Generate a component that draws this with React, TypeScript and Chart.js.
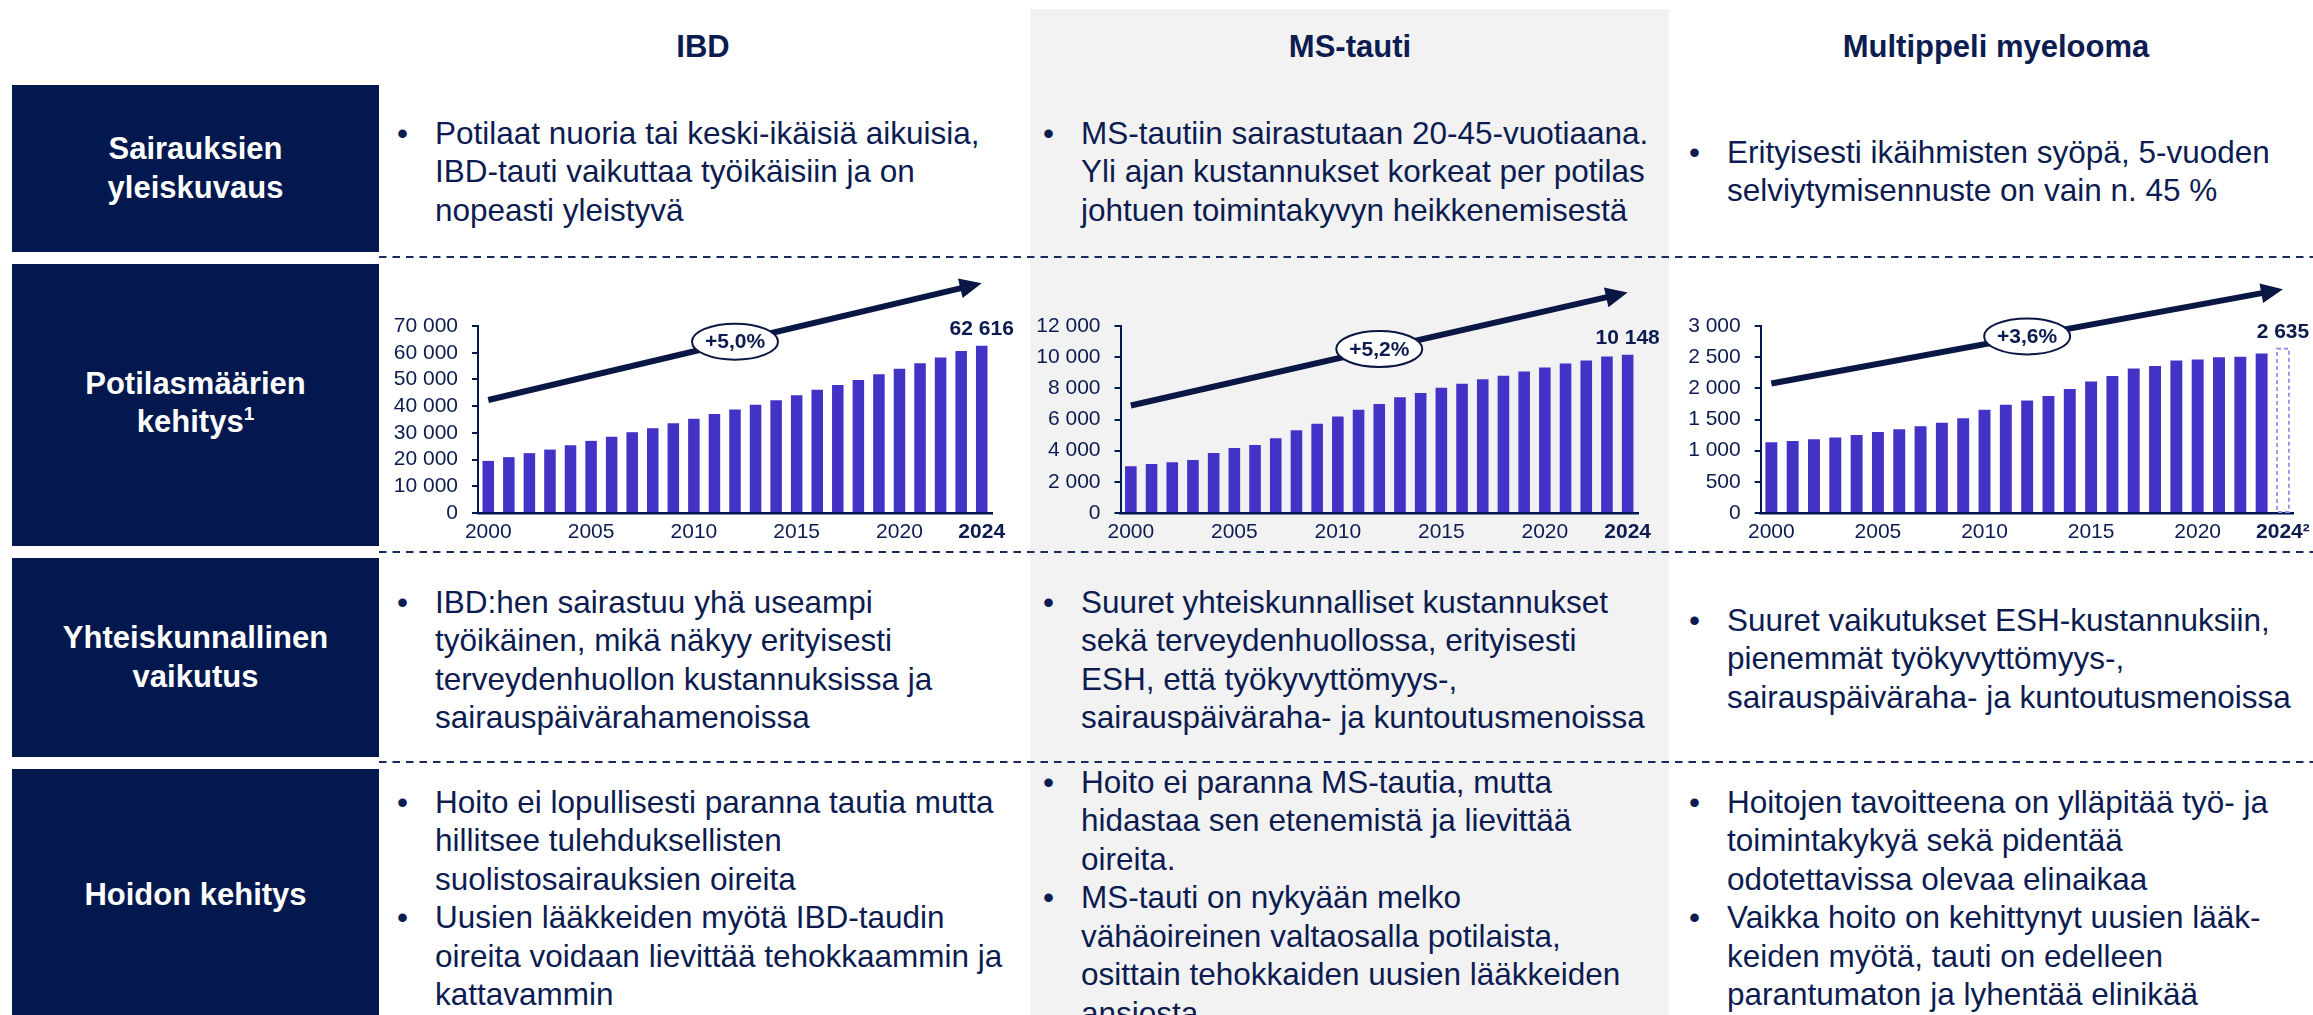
import React, { useEffect, useRef } from 'react';
import { Chart, registerables } from 'chart.js';

Chart.register(...registerables);

// ---------- DATA ----------
const YEARS = ['2000', '2001', '2002', '2003', '2004', '2005', '2006', '2007', '2008', '2009', '2010', '2011', '2012', '2013', '2014', '2015', '2016', '2017', '2018', '2019', '2020', '2021', '2022', '2023', '2024'];
const SHOWN_YEARS = ['2000', '2005', '2010', '2015', '2020', '2024'];

const IBD_VALUES = [19500, 20900, 22400, 23750, 25400, 27000, 28500, 30250, 31750, 33600, 35250, 37100, 38750, 40500, 42250, 44100, 46100, 47900, 49750, 51900, 54000, 56100, 58250, 60600, 62616];
const MS_VALUES = [3000, 3140, 3250, 3400, 3850, 4170, 4370, 4800, 5310, 5720, 6190, 6620, 6990, 7420, 7700, 8040, 8300, 8580, 8800, 9080, 9330, 9590, 9790, 10040, 10148];
const MM_VALUES = [1134, 1156, 1183, 1210, 1253, 1301, 1344, 1392, 1446, 1522, 1656, 1737, 1806, 1876, 1989, 2108, 2199, 2317, 2360, 2446, 2462, 2500, 2505, 2559, 2635];

const IBD_TREND = [42300, 86000];
const MS_TREND = [6900, 14150];
const MM_TREND = [2077, 3590];

const IBD_GROWTH = '+5,0%';
const MS_GROWTH = '+5,2%';
const MM_GROWTH = '+3,6%';

const IBD_LAST = '62 616';
const MS_LAST = '10 148';
const MM_LAST = '2 635';

const IBD_Y_MAX = 70000; const IBD_Y_STEP = 10000;
const MS_Y_MAX = 12000; const MS_Y_STEP = 2000;
const MM_Y_MAX = 3000; const MM_Y_STEP = 500;

const COLUMN_TITLES = ['IBD', 'MS-tauti', 'Multippeli myelooma'];
const ROW_LABELS = [['Sairauksien', 'yleiskuvaus'], ['Potilasmäärien', 'kehitys¹'], ['Yhteiskunnallinen', 'vaikutus'], ['Hoidon kehitys']];

const ROW1_IBD = [['Potilaat nuoria tai keski-ikäisiä aikuisia,', 'IBD-tauti vaikuttaa työikäisiin ja on', 'nopeasti yleistyvä']];
const ROW1_MS = [['MS-tautiin sairastutaan 20-45-vuotiaana.', 'Yli ajan kustannukset korkeat per potilas', 'johtuen toimintakyvyn heikkenemisestä']];
const ROW1_MM = [['Erityisesti ikäihmisten syöpä, 5-vuoden', 'selviytymisennuste on vain n. 45 %']];
const ROW3_IBD = [['IBD:hen sairastuu yhä useampi', 'työikäinen, mikä näkyy erityisesti', 'terveydenhuollon kustannuksissa ja', 'sairauspäivärahamenoissa']];
const ROW3_MS = [['Suuret yhteiskunnalliset kustannukset', 'sekä terveydenhuollossa, erityisesti', 'ESH, että työkyvyttömyys-,', 'sairauspäiväraha- ja kuntoutusmenoissa']];
const ROW3_MM = [['Suuret vaikutukset ESH-kustannuksiin,', 'pienemmät työkyvyttömyys-,', 'sairauspäiväraha- ja kuntoutusmenoissa']];
const ROW4_IBD = [['Hoito ei lopullisesti paranna tautia mutta', 'hillitsee tulehduksellisten', 'suolistosairauksien oireita'], ['Uusien lääkkeiden myötä IBD-taudin', 'oireita voidaan lievittää tehokkaammin ja', 'kattavammin']];
const ROW4_MS = [['Hoito ei paranna MS-tautia, mutta', 'hidastaa sen etenemistä ja lievittää', 'oireita.'], ['MS-tauti on nykyään melko', 'vähäoireinen valtaosalla potilaista,', 'osittain tehokkaiden uusien lääkkeiden', 'ansiosta']];
const ROW4_MM = [['Hoitojen tavoitteena on ylläpitää työ- ja', 'toimintakykyä sekä pidentää', 'odotettavissa olevaa elinaikaa'], ['Vaikka hoito on kehittynyt uusien lääk-', 'keiden myötä, tauti on edelleen', 'parantumaton ja lyhentää elinikää']];

// ---------- STYLE ----------
const FONT = '"Liberation Sans", Arial, Helvetica, sans-serif';
const NAVY = '#02184E';
const TEXT = '#0C1C50';
const ARROW = '#0A1744';
const BAR = '#4332C6';
const DASHED = '#9A8EE6';
const GRAY = '#F2F2F2';

const fmt = (v: number) => String(v).replace(/\B(?=(\d{3})+(?!\d))/g, ' ');

type ChartProps = {
  values: number[];
  yMax: number;
  yStep: number;
  trend: number[];
  growth: string;
  lastLabel: string;
  lastTick: string;
  dashedLast: boolean;
  left: number;
  top: number;
  width: number;
  height: number;
  yWidth: number;
  padRight: number;
};

function BarChart(p: ChartProps) {
  const ref = useRef<HTMLCanvasElement | null>(null);
  useEffect(() => {
    if (!ref.current) return;
    const n = p.values.length;
    const trendPlugin = {
      id: 'trendAnno',
      afterDatasetsDraw(chart: any) {
        const { ctx, scales } = chart;
        const xs = scales.x;
        const ys = scales.y;
        const meta = chart.getDatasetMeta(0);
        const last = meta.data[n - 1];
        const lp = last.getProps(['x', 'y', 'base', 'width'], true);
        ctx.save();
        if (p.dashedLast) {
          ctx.setLineDash([4, 3]);
          ctx.strokeStyle = DASHED;
          ctx.lineWidth = 1.8;
          ctx.strokeRect(lp.x - lp.width / 2, lp.y, lp.width, lp.base - lp.y);
          ctx.setLineDash([]);
        }
        // value label
        ctx.fillStyle = TEXT;
        ctx.font = `bold 21px ${FONT}`;
        ctx.textAlign = 'center';
        ctx.textBaseline = 'middle';
        ctx.fillText(p.lastLabel, lp.x, lp.y - 17);
        // arrow
        const x0 = xs.getPixelForValue(0);
        const x1 = xs.getPixelForValue(n - 1);
        const y0 = ys.getPixelForValue(p.trend[0]);
        const y1 = ys.getPixelForValue(p.trend[1]);
        const ang = Math.atan2(y1 - y0, x1 - x0);
        const headLen = 22;
        const headW = 10;
        const c = Math.cos(ang);
        const s = Math.sin(ang);
        const bx = x1 - headLen * c;
        const by = y1 - headLen * s;
        ctx.strokeStyle = ARROW;
        ctx.fillStyle = ARROW;
        ctx.lineWidth = 6;
        ctx.lineCap = 'butt';
        ctx.beginPath();
        ctx.moveTo(x0, y0);
        ctx.lineTo(bx + 2 * c, by + 2 * s);
        ctx.stroke();
        ctx.beginPath();
        ctx.moveTo(x1, y1);
        ctx.lineTo(bx + headW * s, by - headW * c);
        ctx.lineTo(bx - headW * s, by + headW * c);
        ctx.closePath();
        ctx.fill();
        // ellipse
        const mx = (x0 + x1) / 2;
        const my = (y0 + y1) / 2;
        ctx.beginPath();
        ctx.ellipse(mx, my, 43, 18, 0, 0, Math.PI * 2);
        ctx.fillStyle = '#FFFFFF';
        ctx.fill();
        ctx.lineWidth = 2;
        ctx.strokeStyle = ARROW;
        ctx.stroke();
        ctx.fillStyle = TEXT;
        ctx.font = `bold 21px ${FONT}`;
        ctx.fillText(p.growth, mx, my + 1);
        ctx.restore();
      },
    };
    const colors = p.values.map((_, i) => (p.dashedLast && i === n - 1 ? 'rgba(0,0,0,0)' : BAR));
    const chart = new Chart(ref.current, {
      type: 'bar',
      data: {
        labels: YEARS,
        datasets: [
          {
            data: p.values,
            backgroundColor: colors,
            borderWidth: 0,
            barPercentage: 0.56,
            categoryPercentage: 1,
          },
        ],
      },
      options: {
        animation: false,
        responsive: false,
        devicePixelRatio: 1,
        layout: { padding: { top: 66, right: p.padRight, left: 0, bottom: 0 } },
        plugins: { legend: { display: false }, tooltip: { enabled: false } },
        scales: {
          x: {
            grid: { display: false, drawTicks: false },
            border: { display: true, color: NAVY, width: 2.5 },
            ticks: {
              autoSkip: false,
              maxRotation: 0,
              minRotation: 0,
              padding: 7,
              color: TEXT,
              font: (ctx: any) => ({ size: 21, family: FONT, weight: ctx.index === n - 1 ? 'bold' : 'normal' }),
              callback: (_v: any, i: number) => (SHOWN_YEARS.includes(YEARS[i]) ? (i === n - 1 ? p.lastTick : YEARS[i]) : ''),
            },
            afterFit: (scale: any) => {
              scale.height = 37;
            },
          },
          y: {
            min: 0,
            max: p.yMax,
            ticks: {
              stepSize: p.yStep,
              autoSkip: false,
              padding: 14,
              color: TEXT,
              font: { size: 21, family: FONT },
              callback: (v: any) => fmt(Number(v)),
            },
            grid: { drawOnChartArea: false, drawTicks: true, tickLength: 6, color: NAVY, lineWidth: 2 },
            border: { display: true, color: NAVY, width: 2 },
            afterFit: (scale: any) => {
              scale.width = p.yWidth;
            },
          },
        },
      },
      plugins: [trendPlugin],
    } as any);
    return () => chart.destroy();
  }, []);
  return (
    <canvas
      ref={ref}
      width={p.width}
      height={p.height}
      style={{ position: 'absolute', left: p.left, top: p.top, width: p.width, height: p.height, display: 'block' }}
    />
  );
}

function Bullets({ x, top, items }: { x: number; top: number; items: string[][] }) {
  return (
    <div
      style={{
        position: 'absolute',
        left: x,
        top,
        fontFamily: FONT,
        fontSize: 31.5,
        lineHeight: '38.5px',
        color: TEXT,
        whiteSpace: 'nowrap',
      }}
    >
      {items.map((lines, i) => (
        <div key={i} style={{ position: 'relative' }}>
          <span style={{ position: 'absolute', left: -38 }}>•</span>
          {lines.map((l, j) => (
            <div key={j}>{l}</div>
          ))}
        </div>
      ))}
    </div>
  );
}

function RowLabel({ top, height, lines }: { top: number; height: number; lines: string[] }) {
  return (
    <div
      style={{
        position: 'absolute',
        left: 12,
        top,
        width: 367,
        height,
        background: NAVY,
        color: '#FFFFFF',
        fontFamily: FONT,
        fontWeight: 'bold',
        fontSize: 31,
        lineHeight: '38.5px',
        display: 'flex',
        flexDirection: 'column',
        alignItems: 'center',
        justifyContent: 'center',
        textAlign: 'center',
      }}
    >
      {lines.map((l, i) => {
        if (l.endsWith('¹')) {
          return (
            <div key={i}>
              {l.slice(0, -1)}
              <span style={{ fontSize: 19, position: 'relative', top: -12 }}>1</span>
            </div>
          );
        }
        return <div key={i}>{l}</div>;
      })}
    </div>
  );
}

function Title({ cx, text }: { cx: number; text: string }) {
  return (
    <div
      style={{
        position: 'absolute',
        left: cx - 300,
        width: 600,
        top: 47 - 19,
        textAlign: 'center',
        fontFamily: FONT,
        fontWeight: 'bold',
        fontSize: 31,
        lineHeight: '38px',
        color: TEXT,
      }}
    >
      {text}
    </div>
  );
}

export default function App() {
  const dashY = [257, 552, 762];
  return (
    <div style={{ position: 'absolute', left: 0, top: 0, width: 2313, height: 1015, overflow: 'hidden', background: '#FFFFFF' }}>
      <div style={{ position: 'absolute', left: 1030, top: 9, width: 639, height: 1010, background: GRAY }} />
      <Title cx={703} text={COLUMN_TITLES[0]} />
      <Title cx={1350} text={COLUMN_TITLES[1]} />
      <Title cx={1996} text={COLUMN_TITLES[2]} />

      <RowLabel top={85} height={167} lines={ROW_LABELS[0]} />
      <RowLabel top={264} height={282} lines={ROW_LABELS[1]} />
      <RowLabel top={558} height={199} lines={ROW_LABELS[2]} />
      <RowLabel top={769} height={252} lines={ROW_LABELS[3]} />

      <svg width={2313} height={1015} style={{ position: 'absolute', left: 0, top: 0 }}>
        {dashY.map((y) => (
          <line key={y} x1={379} y1={y} x2={2313} y2={y} stroke="#1B2A5C" strokeWidth={2} strokeDasharray="7.5 6" />
        ))}
      </svg>

      <Bullets x={435} top={113.75} items={ROW1_IBD} />
      <Bullets x={1081} top={113.75} items={ROW1_MS} />
      <Bullets x={1727} top={132.75} items={ROW1_MM} />

      <Bullets x={435} top={582.75} items={ROW3_IBD} />
      <Bullets x={1081} top={582.75} items={ROW3_MS} />
      <Bullets x={1727} top={600.75} items={ROW3_MM} />

      <Bullets x={435} top={782.75} items={ROW4_IBD} />
      <Bullets x={1081} top={762.75} items={ROW4_MS} />
      <Bullets x={1727} top={782.75} items={ROW4_MM} />

      <BarChart
        values={IBD_VALUES}
        yMax={IBD_Y_MAX}
        yStep={IBD_Y_STEP}
        trend={IBD_TREND}
        growth={IBD_GROWTH}
        lastLabel={IBD_LAST}
        lastTick="2024"
        dashedLast={false}
        left={380}
        top={260}
        width={640}
        height={290}
        yWidth={98}
        padRight={28}
      />
      <BarChart
        values={MS_VALUES}
        yMax={MS_Y_MAX}
        yStep={MS_Y_STEP}
        trend={MS_TREND}
        growth={MS_GROWTH}
        lastLabel={MS_LAST}
        lastTick="2024"
        dashedLast={false}
        left={1035}
        top={260}
        width={630}
        height={290}
        yWidth={85.5}
        padRight={27}
      />
      <BarChart
        values={MM_VALUES}
        yMax={MM_Y_MAX}
        yStep={MM_Y_STEP}
        trend={MM_TREND}
        growth={MM_GROWTH}
        lastLabel={MM_LAST}
        lastTick="2024²"
        dashedLast={true}
        left={1680}
        top={260}
        width={660}
        height={290}
        yWidth={80.7}
        padRight={46.4}
      />
    </div>
  );
}
